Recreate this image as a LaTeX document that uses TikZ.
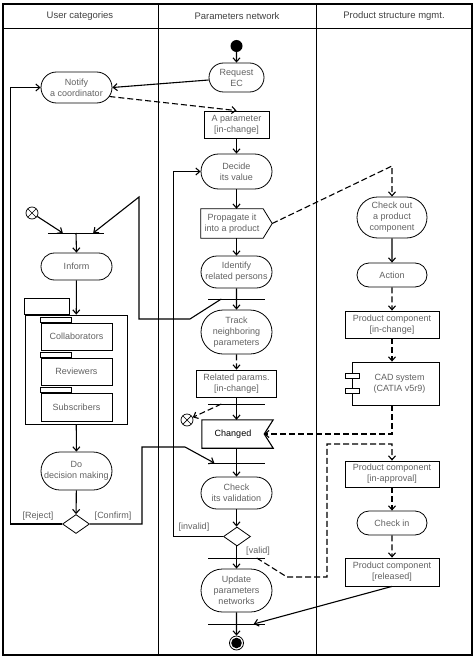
\documentclass[tikz,border=0pt]{standalone}
\usepackage{fontspec}
\setmainfont{Liberation Sans}
\usetikzlibrary{arrows.meta,shapes.misc,shapes.geometric,calc}

\begin{document}
\begin{tikzpicture}[x=1pt,y=-1pt,
  txt/.style={text=black!62, font=\fontsize{9}{11}\selectfont, align=center},
  head/.style={text=black!75, font=\fontsize{9.5}{11}\selectfont},
  act/.style={rounded rectangle, draw, line width=0.8pt, inner sep=0pt, txt},
  obj/.style={rectangle, draw, line width=0.8pt, inner sep=0pt, txt},
  plain/.style={rectangle, inner sep=0pt, txt},
  bar/.style={rectangle, inner sep=0pt, minimum height=0pt, minimum width=56pt,
    append after command={\pgfextra{\draw[line width=0.9pt]
      (\tikzlastnode.west) -- (\tikzlastnode.east);}}},
  choice/.style={diamond, draw, line width=0.8pt, inner sep=0pt, minimum width=27pt, minimum height=19pt},
  flow/.style={line width=1.1pt, -{Straight Barb[length=4pt,width=7pt]}},
  dflow/.style={flow, dash pattern=on 6pt off 3pt},
  xend/.style={circle, draw, line width=0.7pt, minimum size=12pt, inner sep=0pt,
    path picture={\draw[line width=0.7pt]
      (path picture bounding box.north west) -- (path picture bounding box.south east)
      (path picture bounding box.north east) -- (path picture bounding box.south west);}},
  guard/.style={txt, inner sep=1pt},
]
\useasboundingbox (0,0) rectangle (476,658);

% swimlane frame
\draw[line width=1.1pt] (3,4) rectangle (472,655);
\draw[line width=1pt] (3,29) -- (472,29);
\draw[line width=1pt] (158,4) -- (158,655);
\draw[line width=1pt] (316,4) -- (316,655);
\node[head] (h1) at (80,16) {User categories};
\node[head] (h2) at (237,16) {Parameters network};
\node[head] (h3) at (394,16) {Product structure mgmt.};

% ---- User categories ----
\node[act, minimum width=71pt, minimum height=31pt] (notify) at (76.5,87.5) {Notify\\a coordinator};
\node[xend] (x1) at (32,213) {};
\node[bar] (join) at (76,233) {};
\node[act, minimum width=71pt, minimum height=27pt] (inform) at (76.5,266.5) {Inform};

\node[obj, minimum width=102pt, minimum height=109pt] (pkg) at (76,369.5) {};
\draw[line width=0.8pt] (pkg.north west) rectangle ++(45,-16);
\node[obj, minimum width=71pt, minimum height=27pt] (collab) at (76.5,336.5) {Collaborators};
\draw[line width=0.8pt] (collab.north west) rectangle ++(31,-5);
\node[obj, minimum width=71pt, minimum height=27pt] (review) at (76.5,371.5) {Reviewers};
\draw[line width=0.8pt] (review.north west) rectangle ++(31,-5);
\node[obj, minimum width=71pt, minimum height=28pt] (subscr) at (76.5,407) {Subscribers};
\draw[line width=0.8pt] (subscr.north west) rectangle ++(31,-5);

\node[act, minimum width=71pt, minimum height=38pt] (dm) at (76.5,471) {Do\\decision making};
\node[choice] (d1) at (76,524) {};
\node[guard] (lrej) at (38,516) {[Reject]};
\node[guard] (lconf) at (113,516) {[Confirm]};

% ---- Parameters network ----
\node[circle, fill=black, minimum size=12pt, inner sep=0pt] (start) at (236.5,46) {};
\node[act, minimum width=55pt, minimum height=29pt] (request) at (236.5,77.5) {Request\\EC};
\node[obj, minimum width=65pt, minimum height=27pt] (aparam) at (236.5,124.5) {A parameter\\{[in-change]}};
\node[act, minimum width=71pt, minimum height=35pt] (decide) at (236.5,171.5) {Decide\\its value};
\node[plain, minimum width=62pt, minimum height=29pt] (prop) at (232,223.5) {Propagate it\\into a product};
\draw[line width=0.8pt] (prop.north west) -- (prop.north east) -- ($(prop.east)+(9,0)$)
  -- (prop.south east) -- (prop.south west) -- cycle;
\coordinate (proptip) at ($(prop.east)+(9,0)$);
\node[act, minimum width=71pt, minimum height=32pt] (identify) at (236.5,272) {Identify\\related persons};
\node[bar] (bar1) at (236.5,299) {};
\node[act, minimum width=71pt, minimum height=44pt] (track) at (236.5,332) {Track\\neighboring\\parameters};
\node[obj, minimum width=80pt, minimum height=27pt] (relp) at (236.5,383.5) {Related params.\\{[in-change]}};
\node[bar] (bar2) at (236.5,404) {};
\node[xend] (x2) at (187,420) {};
\node[plain, minimum width=62pt, minimum height=28pt, text=black] (changed) at (233,434) {Changed};
\draw[line width=1.1pt] (changed.north west) -- ($(changed.north east)+(9,0)$) -- (changed.east)
  -- ($(changed.south east)+(9,0)$) -- (changed.south west) -- cycle;
\node[bar] (bar3) at (236.5,463) {};
\node[act, minimum width=71pt, minimum height=32pt] (checkv) at (236.5,493) {Check\\its validation};
\node[choice] (d2) at (237,536.5) {};
\node[guard] (linv) at (194,527) {[invalid]};
\node[guard] (lval) at (258,551) {[valid]};
\node[bar] (bar4) at (236.5,558) {};
\node[act, minimum width=71pt, minimum height=43pt] (update) at (236.5,590.5) {Update\\parameters\\networks};
\node[bar] (bar5) at (236.5,624) {};
\node[circle, draw, line width=0.8pt, minimum size=14pt, inner sep=0pt] (final) at (236.5,643) {};
\fill (final.center) circle (5.3pt);

% ---- Product structure mgmt. ----
\node[act, minimum width=70pt, minimum height=41pt] (checkout) at (392,217.5) {Check out\\a product\\component};
\node[act, minimum width=70pt, minimum height=24pt] (action) at (392,275) {Action};
\node[obj, minimum width=94pt, minimum height=27pt] (pcin) at (392,324.5) {Product component\\{[in-change]}};
\node[obj, minimum width=87pt, minimum height=43pt] (cad) at (395.5,383.5) {\hspace*{8pt}CAD system\\\hspace*{8pt}(CATIA v5r9)};
\draw[line width=0.8pt, fill=white] (345,373) rectangle (359,378);
\draw[line width=0.8pt, fill=white] (345,388) rectangle (359,393.5);
\node[obj, minimum width=94pt, minimum height=26pt] (pcap) at (392,474) {Product component\\{[in-approval]}};
\node[act, minimum width=70pt, minimum height=24pt] (checkin) at (392,523) {Check in};
\node[obj, minimum width=94pt, minimum height=28pt] (pcrel) at (392,572) {Product component\\{[released]}};

% bend points
\coordinate (forkup) at (139,197);
\coordinate (forkmid) at (139,319);
\coordinate (forkkink) at (190,319);
\coordinate (confup) at (142,447);
\coordinate (confkink) at (185,447);
\coordinate (propbend) at (392,166);
\coordinate (validkink) at (287,577);
\coordinate (validb) at (327,577);
\coordinate (validc) at (327,444);

% ---- connectors ----
\draw[flow] (start) -- (request);
\draw[flow] ([yshift=-2.5pt]request.west) -- (notify.east);
\draw[dflow] ($(notify.east)+(-3,9)$) -- (aparam.north);
\draw[flow] (aparam) -- (decide);
\draw[flow] (decide.south) -- (decide.south |- prop.north);
\draw[flow] (identify.north |- prop.south) -- (identify.north);
\draw[flow] (identify) -- (track);
\draw[flow] ($(bar1.west)+(13,0)$) -- (forkkink) -- (forkmid) -- (forkup) -- ($(join.east)+(-11,0)$);
\draw[flow] (x1) -- ($(join.west)+(15,0)$);
\draw[flow] (join.center) -- (inform.north);
\draw[flow] (inform) -- (pkg);
\draw[flow] (pkg) -- (dm);
\draw[flow] (dm) -- (d1);
\draw[flow] (d1.west) -- ++(-52,0) |- (notify.west);
\draw[flow] (d1.east) -| (confup) -- (confkink) -- ($(bar3.west)+(6,0)$);

\draw[dflow] (proptip) -- (propbend) -- (checkout.north);
\draw[flow] (checkout) -- (action);
\draw[dflow] (action) -- (pcin);
\draw[dflow] (pcin.south) -- (pcin.south |- cad.north);
\draw[dflow] (cad.south -| pcin.south) -- (pcin.south |- changed.east) -- (changed.east);

\draw[dflow] (track) -- (relp);
\draw[flow] (relp.south) -- (relp.south |- changed.north);
\draw[dflow] ($(bar2.west)+(13,0)$) -- (x2);
\draw[flow] (checkv.north |- changed.south) -- (checkv.north);
\draw[flow] (checkv.south) -- (checkv.south |- d2.north);
\draw[flow] (d2.west) -- ++(-50,0) |- (decide.west);
\draw[flow] (d2.south -| update.north) -- (update.north);
\draw[dflow] ($(bar4.east)+(-8,0)$) -- (validkink) -- (validb) -- (validc) -| (pcap.north);
\draw[dflow] (pcap) -- (checkin);
\draw[dflow] (checkin) -- (pcrel);
\draw[flow] (pcrel.south) -- ($(bar5.east)+(-11,0)$);
\draw[flow] (update) -- (final);
\end{tikzpicture}
\end{document}
